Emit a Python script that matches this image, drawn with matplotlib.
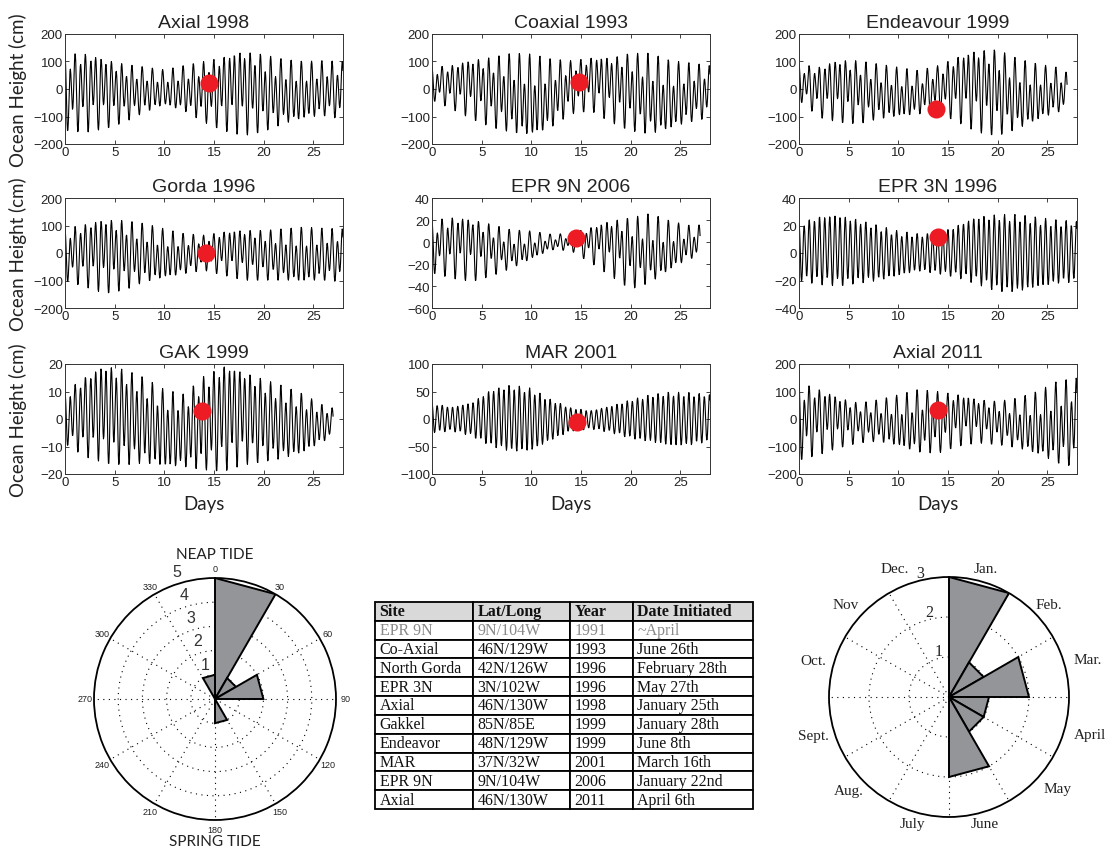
import numpy as np
import pandas as pd
import matplotlib.pyplot as plt

# envelope of each tide record, read every 2 days (cm)
env_days = [0, 2, 4, 6, 8, 10, 12, 14, 16, 18, 20, 22, 24, 26, 28]

titles = ['Axial 1998', 'Coaxial 1993', 'Endeavour 1999',
          'Gorda 1996', 'EPR 9N 2006', 'EPR 3N 1996',
          'GAK 1999', 'MAR 2001', 'Axial 2011']

axial98_hi = [130, 127, 105, 90, 80, 70, 85, 100, 115, 135, 125, 108, 100, 103, 100]
axial98_lo = [-150, -158, -145, -121, -85, -55, -79, -121, -152, -170, -155, -127, -103, -97, -110]
coax_hi = [80, 85, 103, 115, 130, 127, 109, 103, 112, 112, 130, 130, 103, 95, 85]
coax_lo = [-40, -73, -109, -139, -158, -164, -139, -91, -79, -121, -152, -164, -139, -120, -103]
endv_hi = [91, 79, 103, 103, 91, 79, 67, 85, 115, 139, 143, 111, 91, 79, 40]
endv_lo = [-40, -103, -121, -127, -109, -97, -91, -85, -121, -158, -170, -145, -109, -85, -60]
gorda_hi = [90, 103, 119, 118, 107, 88, 70, 65, 76, 82, 82, 88, 94, 90, 88]
gorda_lo = [-100, -123, -147, -135, -105, -87, -75, -63, -81, -99, -99, -99, -99, -99, -105]
epr9_hi = [20, 22, 20, 16, 11, 10, 7, 8, 13, 19, 22, 26, 19, 15, 16]
epr9_lo = [-28, -33, -36, -31, -24, -15, -7, -8, -19, -31, -43, -37, -24, -15, -13]
epr3_hi = [22, 26, 27, 24, 20, 16, 14, 14, 20, 26, 28, 28, 26, 24, 23]
epr3_lo = [-20, -23, -24, -22, -20, -16, -13, -15, -18, -23, -28, -28, -24, -22, -21]
gak_hi = [10, 15, 19, 18, 15, 10.7, 9, 15.6, 19, 16.8, 14.4, 12, 9, 5, 3]
gak_lo = [-9, -13.7, -16, -16.7, -16, -16.7, -17.3, -18.5, -19, -16.7, -15.5, -14.3, -11.8, -8.2, -3]
mar_hi = [29, 21, 29, 53, 62, 56, 35, 20, 15, 23, 35, 44, 49, 48, 44]
mar_lo = [-25, -22, -31, -50, -59, -56, -38, -22, -18, -25, -35, -41, -47, -47, -41]
ax11_hi = [135, 107, 76, 58, 70, 88, 107, 100, 88, 70, 64, 76, 100, 137, 150]
ax11_lo = [-150, -130, -105, -87, -81, -95, -120, -125, -99, -87, -93, -105, -123, -160, -175]

series_hi = [axial98_hi, coax_hi, endv_hi, gorda_hi, epr9_hi, epr3_hi, gak_hi, mar_hi, ax11_hi]
series_lo = [axial98_lo, coax_lo, endv_lo, gorda_lo, epr9_lo, epr3_lo, gak_lo, mar_lo, ax11_lo]
record_end = [28, 28, 27, 28, 27, 28, 27, 28, 28]
diurnal_share = [0.45, 0.5, 0.5, 0.45, 0.6, 0.12, 0.3, 0.08, 0.5]

# red dot: day and height of the marked event
dot_day = [14.5, 14.8, 13.8, 14.2, 14.5, 14.0, 13.8, 14.6, 14.0]
dot_height = [22, 25, -72, 0, 4, 12, 3, -5, 33]

y_ranges = [(-200, 200, 100), (-200, 200, 100), (-200, 200, 100),
            (-200, 200, 100), (-60, 40, 20), (-40, 40, 20),
            (-20, 20, 10), (-100, 100, 50), (-200, 200, 100)]

# rose diagrams
lunar_counts = [5, 1, 2, 0, 0, 1, 0, 0, 0, 0, 0, 1]
month_names = ['Jan.', 'Feb.', 'Mar.', 'April', 'May', 'June',
               'July', 'Aug.', 'Sept.', 'Oct.', 'Nov', 'Dec.']
month_counts = [3, 1, 2, 1, 1, 2, 0, 0, 0, 0, 0, 0]

# table
table_cols = ['Site', 'Lat/Long', 'Year', 'Date Initiated']
sites = ['EPR 9N', 'Co-Axial', 'North Gorda', 'EPR 3N', 'Axial', 'Gakkel',
         'Endeavor', 'MAR', 'EPR 9N', 'Axial']
latlong = ['9N/104W', '46N/129W', '42N/126W', '3N/102W', '46N/130W', '85N/85E',
           '48N/129W', '37N/32W', '9N/104W', '46N/130W']
years = ['1991', '1993', '1996', '1996', '1998', '1999', '1999', '2001', '2006', '2011']
dates = ['~April', 'June 26th', 'February 28th', 'May 27th', 'January 25th',
         'January 28th', 'June 8th', 'March 16th', 'January 22nd', 'April 6th']

# where the month names sit (degrees clockwise from north, radius)
month_label_ang = [16, 47, 75, 105, 130, 164, 196, 227, 254, 285, 312, 337]
month_label_r = [3.35, 3.4, 3.6, 3.65, 3.55, 3.28, 3.28, 3.42, 3.52, 3.5, 3.47, 3.5]

W, H = 1109, 854
SANS = 'Liberation Sans'
LABEL = 'Lato'
SERIF = 'Liberation Serif'
GRAY = '#939598'
RED = '#ED1C24'
INK = '#222222'


def px_axes(fig, x0, y0, x1, y1, **kw):
    return fig.add_axes([x0 / W, 1 - y1 / H, (x1 - x0) / W, (y1 - y0) / H], **kw)


def tide_curve(hi, lo, t_end, q):
    t = np.arange(0, t_end + 1e-9, 1 / 24)
    hi = np.array(hi, float)
    lo = np.array(lo, float)
    top = np.interp(t, env_days, hi)
    bot = np.interp(t, env_days, lo)
    s = pd.Series(np.cos(2 * np.pi * t / 0.5175) + q * np.cos(2 * np.pi * t / 0.9973 + 0.8))
    # scale so the daily extremes follow the read envelope
    smax = s.rolling(27, center=True, min_periods=1).max()
    smax = smax.rolling(25, center=True, min_periods=1).mean().to_numpy()
    smin = s.rolling(27, center=True, min_periods=1).min()
    smin = smin.rolling(25, center=True, min_periods=1).mean().to_numpy()
    u = (s.to_numpy() - smin) / (smax - smin)
    return t, bot + u * (top - bot)


fig = plt.figure(figsize=(W / 100, H / 100), dpi=100)

col_left = [65, 432, 799]
row_top = [35, 199, 365]
for i in range(9):
    r, c = divmod(i, 3)
    ax = px_axes(fig, col_left[c], row_top[r], col_left[c] + 278, row_top[r] + 110)
    t, h = tide_curve(series_hi[i], series_lo[i], record_end[i], diurnal_share[i])
    ax.plot(t, h, color='k', lw=0.8)
    ax.plot(dot_day[i], dot_height[i], 'o', ms=13, color=RED, mec='none', zorder=3)
    lo, hi, step = y_ranges[i]
    ax.set_xlim(0, 28)
    ax.set_ylim(lo, hi)
    ax.set_xticks([0, 5, 10, 15, 20, 25])
    ax.set_yticks(np.arange(lo, hi + 1, step))
    ax.tick_params(direction='in', length=3, width=0.6, top=True, right=True,
                   labelsize=9.5, pad=1.5, colors=INK)
    for lab in ax.get_xticklabels() + ax.get_yticklabels():
        lab.set_family(SANS)
    for sp in ax.spines.values():
        sp.set_linewidth(0.7)
        sp.set_color('#333333')
    ax.set_title(titles[i], fontsize=14, family=SANS, pad=5, color=INK)
    if c == 0:
        ax.set_ylabel('Ocean Height (cm)', fontsize=13.5, family=LABEL, color=INK)
        ax.yaxis.set_label_coords(-0.135, 0.5)
    if r == 2:
        ax.set_xlabel('Days', fontsize=13.5, family=LABEL, color=INK)
        ax.xaxis.set_label_coords(0.5, -0.19)


def rose(ax, counts):
    for k, n in enumerate(counts):
        if n == 0:
            continue
        a0, a1 = np.deg2rad(30 * k), np.deg2rad(30 * (k + 1))
        ax.fill([0, a0, a1, 0], [0, n, n, 0], facecolor=GRAY, edgecolor='k',
                lw=1.4, zorder=3)


def polar_frame(ax, rmax, rings):
    ax.set_theta_zero_location('N')
    ax.set_theta_direction(-1)
    ax.set_ylim(0, rmax)
    ax.set_yticks(rings)
    ax.set_yticklabels([])
    ax.set_xticks(np.deg2rad(np.arange(0, 360, 30)))
    ax.set_xticklabels([])
    ax.tick_params(length=0)
    ax.grid(True, color='k', linestyle=(0, (1, 4)), lw=0.8)
    ax.spines['polar'].set_linewidth(1.3)
    ax.spines['polar'].set_color('k')


# lunar phase rose
pax = px_axes(fig, 94, 579, 336, 821, projection='polar')
polar_frame(pax, 5, [1, 2, 3, 4])
rose(pax, lunar_counts)
for a in range(0, 360, 30):
    pax.text(np.deg2rad(a), 5.38, str(a), ha='center', va='center',
             fontsize=6.5, family=SANS, color=INK)
for k in range(1, 6):
    pax.text(np.deg2rad(-16.5), k + 0.5, str(k), ha='center', va='center',
             fontsize=11.5, family=SANS, color='#333333')
fig.text(215 / W, 1 - 555 / H, 'NEAP TIDE', ha='center', va='center',
         fontsize=11, family=LABEL, color=INK)
fig.text(215 / W, 1 - 842 / H, 'SPRING TIDE', ha='center', va='center',
         fontsize=11, family=LABEL, color=INK)

# month rose
max_ = px_axes(fig, 829, 578, 1069, 818, projection='polar')
polar_frame(max_, 3, [1, 2])
rose(max_, month_counts)
for k, name in enumerate(month_names):
    max_.text(np.deg2rad(month_label_ang[k]), month_label_r[k], name,
              ha='center', va='center', fontsize=11, family=SERIF, color=INK)
for k in range(1, 4):
    max_.text(np.deg2rad(-13), k + 0.17, str(k), ha='center', va='center',
              fontsize=11.5, family=SERIF, color=INK)

# site table
tax = px_axes(fig, 375, 603, 753, 810)
tax.axis('off')
col_px = [98, 97, 63, 120]
cells = [list(row) for row in zip(sites, latlong, years, dates)]
tab = tax.table(cellText=cells, colLabels=table_cols, cellLoc='left',
                colLoc='left', colWidths=[w / sum(col_px) for w in col_px],
                bbox=[0, 0, 1, 1])
tab.auto_set_font_size(False)
for (r, c), cell in tab.get_celld().items():
    cell.PAD = 4.5 / col_px[c]
    cell.set_linewidth(1.3)
    cell.set_edgecolor('k')
    txt = cell.get_text()
    txt.set_fontsize(11.5)
    txt.set_family(SERIF)
    txt.set_color('#111111')
    if r == 0:
        cell.set_facecolor('#d9d9d9')
        txt.set_fontweight('bold')
    if r == 1:
        txt.set_color('#8a8a8a')

fig.savefig('out.png', dpi=100)
